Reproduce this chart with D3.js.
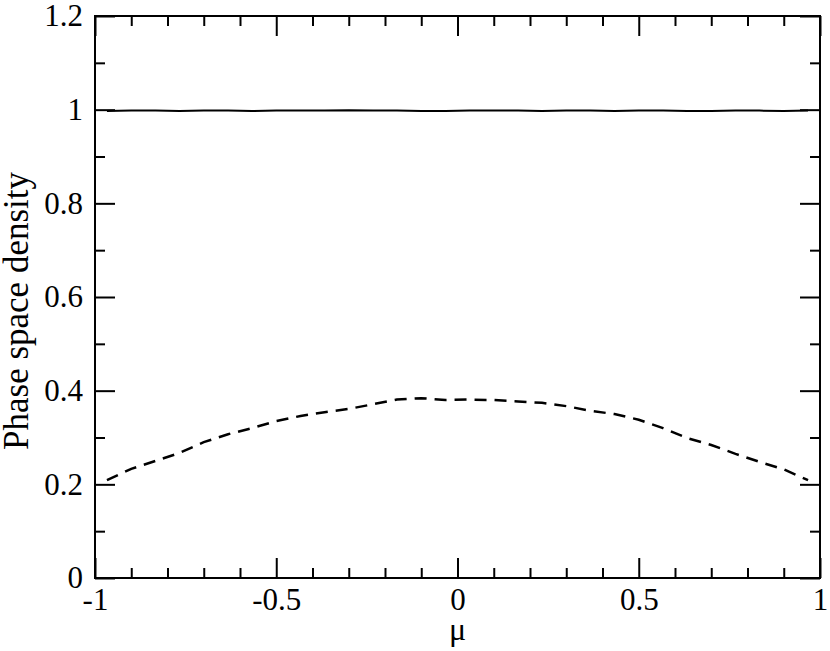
<!DOCTYPE html>
<html lang="en">
<head>
<meta charset="utf-8">
<title>Phase space density</title>
<script src="https://d3js.org/d3.v7.min.js"></script>
<style>
  body { margin: 0; background: #fff; }
  text { font-family: "Liberation Serif", "DejaVu Serif", serif; fill: #000; }
</style>
</head>
<body>
<script>
// bin centres in mu
var mu = [-0.967, -0.900, -0.833, -0.767, -0.700, -0.633, -0.567, -0.500, -0.433, -0.367,
          -0.300, -0.233, -0.167, -0.100, -0.033, 0.033, 0.100, 0.167, 0.233, 0.300,
          0.367, 0.433, 0.500, 0.567, 0.633, 0.700, 0.767, 0.833, 0.900, 0.967];
var solid = [0.997, 0.998, 0.998, 0.997, 0.998, 0.998, 0.997, 0.998, 0.998, 0.998,
             0.999, 0.998, 0.998, 0.997, 0.997, 0.998, 0.998, 0.998, 0.997, 0.998,
             0.998, 0.997, 0.998, 0.998, 0.997, 0.997, 0.998, 0.998, 0.997, 0.998];
var dashed = [0.209, 0.233, 0.250, 0.267, 0.290, 0.307, 0.320, 0.335, 0.346, 0.354,
              0.361, 0.371, 0.381, 0.384, 0.380, 0.381, 0.380, 0.377, 0.374, 0.367,
              0.357, 0.350, 0.338, 0.320, 0.299, 0.284, 0.265, 0.248, 0.232, 0.209];
var xMajor = [-1, -0.5, 0, 0.5, 1];
var xMinor = [-0.9, -0.8, -0.7, -0.6, -0.4, -0.3, -0.2, -0.1, 0.1, 0.2, 0.3, 0.4, 0.6, 0.7, 0.8, 0.9];
var yMajor = [0, 0.2, 0.4, 0.6, 0.8, 1, 1.2];
var yMinor = [0.1, 0.3, 0.5, 0.7, 0.9, 1.1];

var W = 830, H = 651;
var pL = 95, pR = 820, pT = 16, pB = 578;

var svg = d3.select("body").append("svg")
    .attr("width", W).attr("height", H);

var x = d3.scaleLinear().domain([-1, 1]).range([pL, pR]);
var y = d3.scaleLinear().domain([0, 1.2]).range([pB, pT]);

var fmt = function(d) { return String(d); };

function styleAxis(g) {
  g.select(".domain").remove();
  g.selectAll(".tick line").attr("stroke", "#000").attr("stroke-width", 2);
  g.selectAll(".tick text").attr("font-size", 31).attr("font-family", "Liberation Serif");
}

// bottom
svg.append("g").attr("transform", "translate(0," + pB + ")")
  .call(d3.axisBottom(x).tickValues(xMajor).tickSize(-20).tickPadding(10).tickFormat(fmt))
  .call(styleAxis);
svg.append("g").attr("transform", "translate(0," + pB + ")")
  .call(d3.axisBottom(x).tickValues(xMinor).tickSize(-10).tickFormat(""))
  .call(styleAxis);
// top
svg.append("g").attr("transform", "translate(0," + pT + ")")
  .call(d3.axisTop(x).tickValues(xMajor).tickSize(-20).tickFormat(""))
  .call(styleAxis);
svg.append("g").attr("transform", "translate(0," + pT + ")")
  .call(d3.axisTop(x).tickValues(xMinor).tickSize(-10).tickFormat(""))
  .call(styleAxis);
// left
svg.append("g").attr("transform", "translate(" + pL + ",0)")
  .call(d3.axisLeft(y).tickValues(yMajor).tickSize(-20).tickPadding(12).tickFormat(fmt))
  .call(styleAxis);
svg.append("g").attr("transform", "translate(" + pL + ",0)")
  .call(d3.axisLeft(y).tickValues(yMinor).tickSize(-10).tickFormat(""))
  .call(styleAxis);
// right
svg.append("g").attr("transform", "translate(" + pR + ",0)")
  .call(d3.axisRight(y).tickValues(yMajor).tickSize(-20).tickFormat(""))
  .call(styleAxis);
svg.append("g").attr("transform", "translate(" + pR + ",0)")
  .call(d3.axisRight(y).tickValues(yMinor).tickSize(-10).tickFormat(""))
  .call(styleAxis);

// frame
svg.append("rect")
  .attr("x", pL).attr("y", pT)
  .attr("width", pR - pL).attr("height", pB - pT)
  .attr("fill", "none").attr("stroke", "#000").attr("stroke-width", 2);

var line = d3.line()
  .x(function(d, i) { return x(mu[i]); })
  .y(function(d) { return y(d); });

svg.append("path").datum(solid)
  .attr("d", line)
  .attr("fill", "none").attr("stroke", "#000").attr("stroke-width", 2);

svg.append("path").datum(dashed)
  .attr("d", line)
  .attr("fill", "none").attr("stroke", "#000").attr("stroke-width", 2.5)
  .attr("stroke-dasharray", "12,8");

// axis titles
svg.append("text")
  .attr("x", (pL + pR) / 2).attr("y", 640)
  .attr("text-anchor", "middle").attr("font-size", 32)
  .text("μ");

svg.append("text")
  .attr("transform", "translate(28,311) rotate(-90)")
  .attr("text-anchor", "middle").attr("font-size", 35)
  .text("Phase space density");
</script>
</body>
</html>
